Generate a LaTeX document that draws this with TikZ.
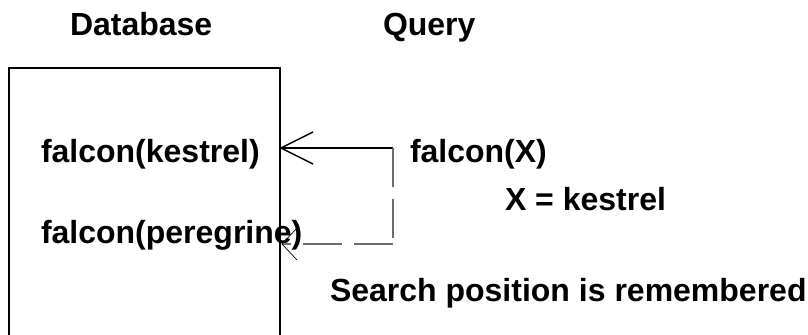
\documentclass[tikz,border=0pt]{standalone}
\usepackage{fontspec}
\setmainfont{Liberation Sans}
\usetikzlibrary{calc}
\definecolor{dashgray}{rgb}{0.42,0.42,0.42}
\begin{document}
\begin{tikzpicture}[x=0.5pt,y=-0.5pt,
  lbl/.style={anchor=base west,inner sep=0pt,outer sep=0pt,font=\fontsize{16}{19}\selectfont\bfseries},
  boxline/.style={line width=1pt,black},
  solidarrow/.style={line width=0.75pt,black},
  dashline/.style={line width=0.65pt,dashgray,dash pattern=on 19.5pt off 6pt},
  thinhead/.style={line width=0.35pt,black}]
\useasboundingbox (0,0) rectangle (808,335);
% titles
\node[lbl] (db) at (70,36) {Database};
\node[lbl] (q) at (383,36) {Query};
% database box (open at the bottom, runs past the picture edge)
\draw[boxline] (9,335) -- (9,68) -- (280,68) -- (280,335);
% database facts
\node[lbl] (f1) at (41,163) {falcon(kestrel)};
\node[lbl] (f2) at (41,244) {falcon(peregrine)};
% query
\node[lbl] (fx) at (410,163) {falcon(X)};
\node[lbl] (xk) at (505,211) {X = kestrel};
\node[lbl] (sp) at (330,302) {Search position is remembered};
% coordinates
\coordinate (qs) at (393,148);
\coordinate (t1) at (281,148);
\coordinate (qc) at (393,244);
\coordinate (t2) at (282,244);
% solid arrow from query to first fact
\draw[solidarrow] (qs) -- (t1);
\draw[solidarrow] ($(t1)+(32,-16)$) -- (t1) -- ($(t1)+(32,16)$);
% dashed return path to the second fact
\draw[dashline] (qs) -- (qc);
\draw[dashline] (qc) -- (t2);
\draw[thinhead] ($(t2)+(15,-16)$) -- (t2) -- ($(t2)+(15,16)$);
\end{tikzpicture}
\end{document}
